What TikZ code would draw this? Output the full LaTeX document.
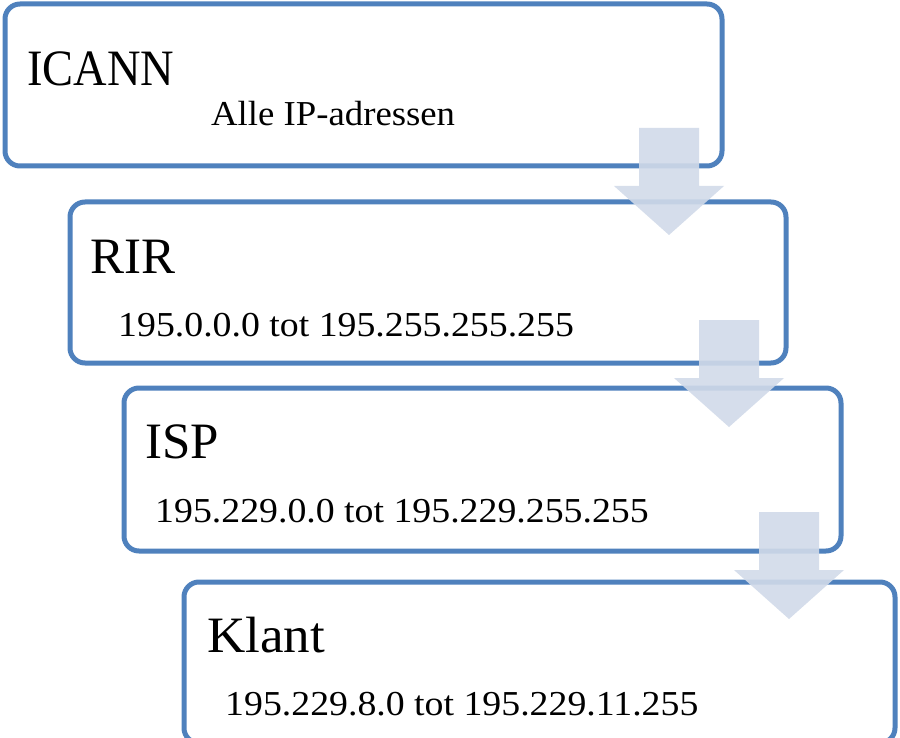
\documentclass[tikz,border=0pt]{standalone}
\usepackage{fontspec}
\setmainfont{Liberation Serif}
\definecolor{boxblue}{RGB}{79,129,189}
\definecolor{arrowfill}{RGB}{209,218,233}
\newcommand{\rangestr}[1]{\scalebox{1.08}[1]{#1}}
\tikzset{
  stagebox/.style={draw=boxblue, line width=5pt, fill=white, rounded corners=15pt,
    rectangle, inner sep=0pt, outer sep=0pt, anchor=north west},
  titletext/.style={anchor=base west, inner sep=0pt, font=\fontsize{51}{51}\selectfont},
  rangetext/.style={anchor=base west, inner sep=0pt, font=\fontsize{35}{35}\selectfont},
  blockarrow/.style={fill=arrowfill, fill opacity=0.9, draw=none}
}
\begin{document}
\begin{tikzpicture}[x=1pt, y=-1pt]
\useasboundingbox (0,0) rectangle (900,738);
\begin{scope}
\clip (0,0) rectangle (900,738);
% boxes
\node[stagebox, minimum width=717pt, minimum height=162pt] (icann) at (5,4) {};
\node[stagebox, minimum width=716pt, minimum height=161pt] (rir) at (70,202) {};
\node[stagebox, minimum width=717pt, minimum height=163pt] (isp) at (124,388) {};
\node[stagebox, minimum width=711pt, minimum height=161pt] (klant) at (184,582) {};
% texts
\node[titletext] (t1) at (27,86) {\scalebox{0.91}[1]{ICANN}};
\node[rangetext] (r1) at (211,126) {\scalebox{1.05}[1]{Alle IP-adressen}};
\node[titletext] (t2) at (90,273) {RIR};
\node[rangetext] (r2) at (118,336) {\rangestr{195.0.0.0 tot 195.255.255.255}};
\node[titletext] (t3) at (145,458) {ISP};
\node[rangetext] (r3) at (155,522) {\rangestr{195.229.0.0 tot 195.229.255.255}};
\node[titletext] (t4) at (207,652) {\scalebox{1.04}[1]{Klant}};
\node[rangetext] (r4) at (225,715) {\rangestr{195.229.8.0 tot 195.229.11.255}};
% block arrows
\foreach \dx/\dy [count=\i] in {0/0, 60/192, 120/384} {
  \fill[blockarrow, shift={(\dx,\dy)}]
    (639,128) -- (699,128) -- (699,186) -- (724,186) -- (669,235)
    -- (614,186) -- (639,186) -- cycle;
}
\end{scope}
\end{tikzpicture}
\end{document}
